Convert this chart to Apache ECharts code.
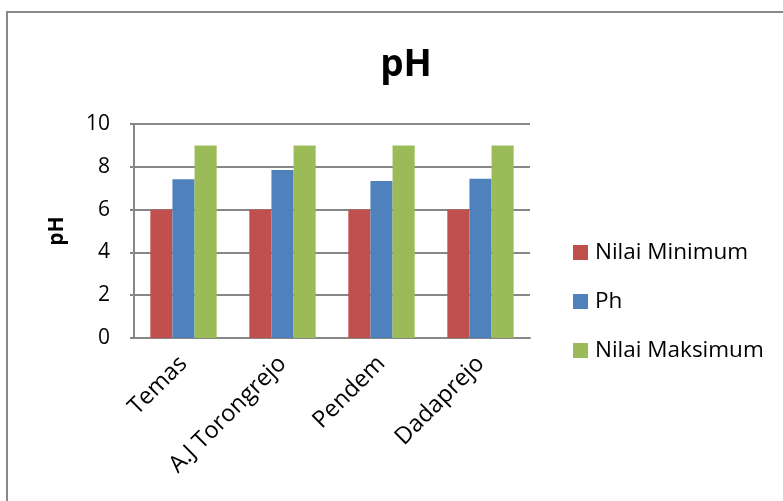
<!DOCTYPE html>
<html>
<head>
<meta charset="utf-8">
<script src="https://cdn.jsdelivr.net/npm/echarts@6/dist/echarts.min.js"></script>
<style>
  html, body { margin: 0; padding: 0; background: #fff; }
  #chart { width: 783px; height: 501px; }
</style>
</head>
<body>
<div id="chart"></div>
<script>
// pH per location, compared with the allowed minimum and maximum
const locations = ['Temas', 'A.J Torongrejo', 'Pendem', 'Dadaprejo'];
const nilaiMinimum = [6, 6, 6, 6];
const phValues = [7.42, 7.85, 7.34, 7.44];
const nilaiMaksimum = [9, 9, 9, 9];
const seriesNames = ['Nilai Minimum', 'Ph', 'Nilai Maksimum'];
const seriesColors = ['#C0504D', '#4F81BD', '#9BBB59'];

const fontFamily = '"Open Sans", "Liberation Sans", sans-serif';
const gridColor = '#878787';

const chart = echarts.init(document.getElementById('chart'), null, { renderer: 'canvas' });

chart.setOption({
  animation: false,
  backgroundColor: '#ffffff',
  title: {
    text: 'pH',
    left: 406,
    textAlign: 'center',
    top: 47,
    padding: 0,
    textStyle: { fontFamily, fontSize: 37, fontWeight: 'bold', color: '#000' }
  },
  graphic: [{
    type: 'rect',
    shape: { x: 7, y: 12, width: 800, height: 520 },
    style: { fill: 'none', stroke: '#888888', lineWidth: 2 },
    silent: true
  }],
  legend: {
    orient: 'vertical',
    left: 573,
    top: 241,
    padding: 0,
    itemWidth: 15,
    itemHeight: 15,
    itemGap: 26,
    icon: 'rect',
    data: seriesNames,
    textStyle: { fontFamily, fontSize: 22.5, color: '#000', lineHeight: 22, padding: [0, 0, 0, 2] }
  },
  grid: { left: 134, right: 253, top: 124, bottom: 163 },
  xAxis: {
    type: 'category',
    data: locations,
    axisLine: { lineStyle: { color: gridColor, width: 2 } },
    axisTick: { show: false },
    axisLabel: {
      rotate: 45,
      margin: 22,
      interval: 0,
      fontFamily, fontSize: 23.5, color: '#000'
    }
  },
  yAxis: {
    type: 'value',
    min: 0,
    max: 10,
    interval: 2,
    name: 'pH',
    nameLocation: 'middle',
    nameRotate: 90,
    nameGap: 66,
    nameTextStyle: { fontFamily, fontSize: 21, fontWeight: 'bold', color: '#000' },
    axisLine: { show: true, lineStyle: { color: gridColor, width: 2 } },
    axisTick: { show: true, length: 4, lineStyle: { color: gridColor, width: 2 } },
    axisLabel: { fontFamily, fontSize: 21, color: '#000', margin: 24 },
    splitLine: { lineStyle: { color: gridColor, width: 2 } }
  },
  series: [
    { name: seriesNames[0], type: 'bar', data: nilaiMinimum, itemStyle: { color: seriesColors[0] }, barGap: '0%', barCategoryGap: '33%' },
    { name: seriesNames[1], type: 'bar', data: phValues, itemStyle: { color: seriesColors[1] }, barGap: '0%', barCategoryGap: '33%' },
    { name: seriesNames[2], type: 'bar', data: nilaiMaksimum, itemStyle: { color: seriesColors[2] }, barGap: '0%', barCategoryGap: '33%' }
  ]
});
</script>
</body>
</html>
